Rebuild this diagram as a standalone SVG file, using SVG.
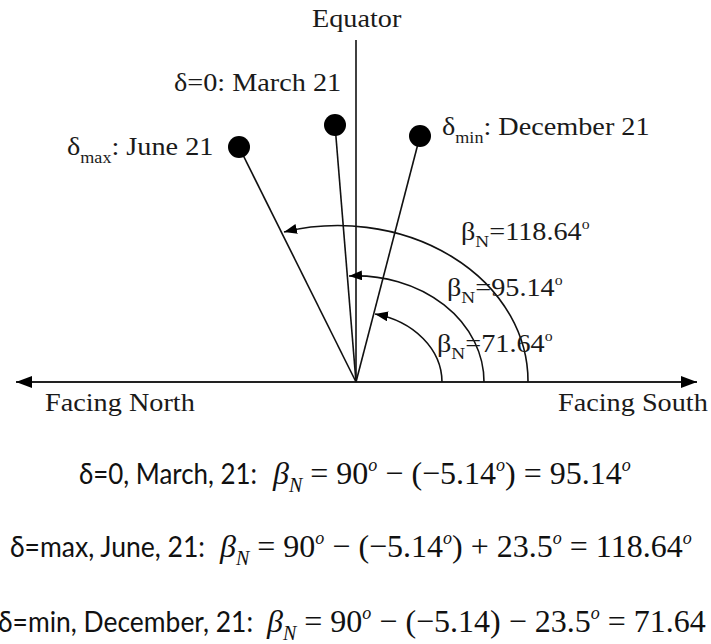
<svg xmlns="http://www.w3.org/2000/svg" width="711" height="644" viewBox="0 0 711 644">
<style>
.t{font-family:"Liberation Serif","Times New Roman",serif;font-size:25px;fill:#1a1a1a}
.lab{font-family:Lato,"Open Sans",sans-serif;font-size:28px;fill:#111}
.m{font-family:"Liberation Serif","Times New Roman",serif;font-size:32px;fill:#111}
.it{font-style:italic}
.sub{font-size:20px;font-style:italic}
.sup{font-size:18px;font-style:italic}
.ln{stroke:#111;stroke-width:1.6;fill:none}
.ax{stroke:#222;stroke-width:2.2;fill:none}
.dot{fill:#000}
</style>
<defs>
<marker id="ah" viewBox="0 0 13 10" refX="13" refY="5" markerWidth="13" markerHeight="10" markerUnits="userSpaceOnUse" orient="auto"><path d="M0,0 L13,5 L0,10 z" fill="#000"/></marker>
<marker id="axh" viewBox="0 0 16 12" refX="16" refY="6" markerWidth="16" markerHeight="12" markerUnits="userSpaceOnUse" orient="auto-start-reverse"><path d="M0,0 L16,6 L0,12 z" fill="#000"/></marker>
</defs>

<g id="connectors">
<line id="axis" class="ax" x1="16" y1="382" x2="697" y2="382" marker-start="url(#axh)" marker-end="url(#axh)"/>
<line id="equator-line" class="ln" x1="356" y1="40" x2="356" y2="382"/>
<line class="ln" x1="356" y1="382" x2="239" y2="147"/>
<line class="ln" x1="356" y1="382" x2="335" y2="125"/>
<line class="ln" x1="356" y1="382" x2="420" y2="136"/>
<path class="ln" d="M528,382 A190,155.7 0 0 0 284,232" marker-end="url(#ah)"/>
<path class="ln" d="M484,382 A128,106 0 0 0 349,276" marker-end="url(#ah)"/>
<path class="ln" d="M442,382 A86,70 0 0 0 375,314" marker-end="url(#ah)"/>
</g>

<g id="equator">
<text class="t" transform="translate(312,27) scale(1.13,1)">Equator</text>
</g>
<g id="march">
<circle class="dot" cx="335" cy="125" r="11"/>
<text class="t" transform="translate(174,91) scale(1.13,1)">δ=0: March 21</text>
</g>
<g id="june">
<circle class="dot" cx="239" cy="147" r="11"/>
<text class="t" transform="translate(67,155) scale(1.13,1)">δ<tspan font-size="16" dy="8">max</tspan><tspan dy="-8">: June 21</tspan></text>
</g>
<g id="december">
<circle class="dot" cx="420" cy="136" r="11"/>
<text class="t" transform="translate(442,135) scale(1.13,1)">δ<tspan font-size="16" dy="8">min</tspan><tspan dy="-8">: December 21</tspan></text>
</g>
<g id="beta118">
<text class="t" transform="translate(461,240) scale(1.13,1)">β<tspan font-size="17" dy="7">N</tspan><tspan dy="-7">=118.64</tspan><tspan font-size="14" dy="-11">o</tspan></text>
</g>
<g id="beta95">
<text class="t" transform="translate(447,296) scale(1.13,1)">β<tspan font-size="17" dy="7">N</tspan><tspan dy="-7">=95.14</tspan><tspan font-size="14" dy="-11">o</tspan></text>
</g>
<g id="beta71">
<text class="t" transform="translate(437,352) scale(1.13,1)">β<tspan font-size="17" dy="7">N</tspan><tspan dy="-7">=71.64</tspan><tspan font-size="14" dy="-11">o</tspan></text>
</g>
<g id="north">
<text class="t" transform="translate(45,411) scale(1.13,1)">Facing North</text>
</g>
<g id="south">
<text class="t" transform="translate(558,411) scale(1.13,1)">Facing South</text>
</g>

<g id="eq1">
<text class="lab" x="79" y="484" textLength="178" lengthAdjust="spacingAndGlyphs">δ=0, March, 21:</text>
<text class="m" x="273" y="484"><tspan class="it">β</tspan><tspan class="sub" dy="8">N</tspan><tspan dy="-8"> = 90</tspan><tspan class="sup" dy="-13">o</tspan><tspan dy="13"> − (−5.14</tspan><tspan class="sup" dy="-13">o</tspan><tspan dy="13">) = 95.14</tspan><tspan class="sup" dy="-13">o</tspan></text>
</g>
<g id="eq2">
<text class="lab" x="10" y="557" textLength="195" lengthAdjust="spacingAndGlyphs">δ=max, June, 21:</text>
<text class="m" x="220" y="557"><tspan class="it">β</tspan><tspan class="sub" dy="8">N</tspan><tspan dy="-8"> = 90</tspan><tspan class="sup" dy="-13">o</tspan><tspan dy="13"> − (−5.14</tspan><tspan class="sup" dy="-13">o</tspan><tspan dy="13">) + 23.5</tspan><tspan class="sup" dy="-13">o</tspan><tspan dy="13"> = 118.64</tspan><tspan class="sup" dy="-13">o</tspan></text>
</g>
<g id="eq3">
<text class="lab" x="-2" y="632" textLength="255" lengthAdjust="spacingAndGlyphs">δ=min, December, 21:</text>
<text class="m" x="267" y="632"><tspan class="it">β</tspan><tspan class="sub" dy="8">N</tspan><tspan dy="-8"> = 90</tspan><tspan class="sup" dy="-13">o</tspan><tspan dy="13"> − (−5.14) − 23.5</tspan><tspan class="sup" dy="-13">o</tspan><tspan dy="13"> = 71.64</tspan></text>
</g>
</svg>
